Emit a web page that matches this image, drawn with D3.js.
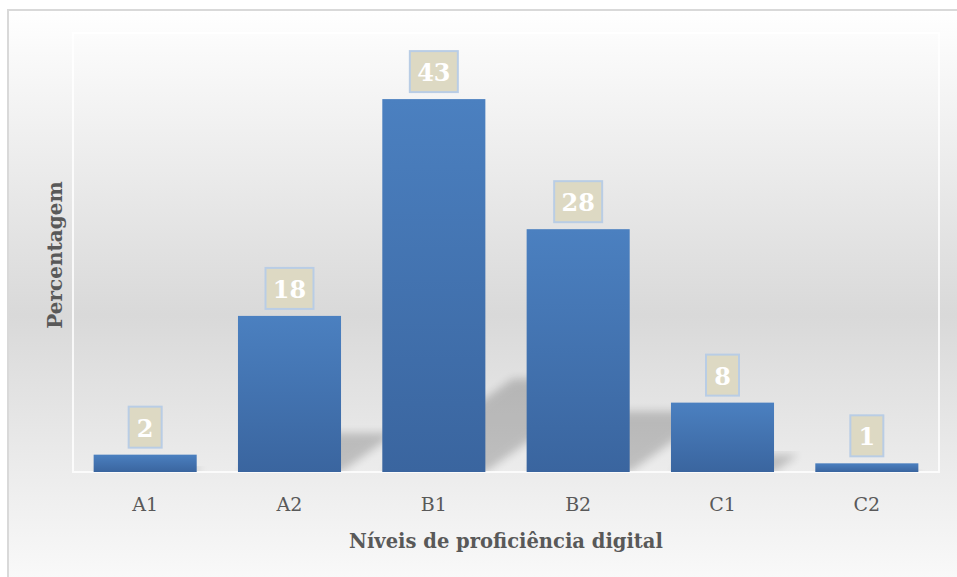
<!DOCTYPE html>
<html>
<head>
<meta charset="utf-8">
<script src="https://cdn.jsdelivr.net/npm/d3@7"></script>
<style>
	body { margin: 0; background: #ffffff; }
	svg { display: block; }
</style>
</head>
<body>
<div id="vis-div"></div>
<script>
'use strict'

// values
const categories = ["A1", "A2", "B1", "B2", "C1", "C2"]
const percentages = [2, 18, 43, 28, 8, 1]
const yDomain = [0, 50]
const xTitle = "Níveis de proficiência digital"
const yTitle = "Percentagem"

function renderChart(width, height){
	let plot = {left: 73, right: 939, top: 38.4, bottom: 472}
	let font = "'DejaVu Serif', 'Liberation Serif', serif"

	let svg = d3.select("#vis-div")
		.append("svg")
		.attr("width", width)
		.attr("height", height)

	let defs = svg.append("defs")

	let bg = defs.append("linearGradient").attr("id", "bg-grad")
		.attr("x1", 0).attr("y1", 0).attr("x2", 0).attr("y2", 1)
	bg.append("stop").attr("offset", "0%").attr("stop-color", "#ffffff")
	bg.append("stop").attr("offset", "52%").attr("stop-color", "#d9d9d9")
	bg.append("stop").attr("offset", "100%").attr("stop-color", "#fbfbfb")

	let barGrad = defs.append("linearGradient").attr("id", "bar-grad")
		.attr("x1", 0).attr("y1", 0).attr("x2", 0).attr("y2", 1)
	barGrad.append("stop").attr("offset", "0%").attr("stop-color", "#4b80c0")
	barGrad.append("stop").attr("offset", "100%").attr("stop-color", "#3a659f")

	defs.append("filter").attr("id", "blur")
		.attr("x", "-20%").attr("y", "-20%").attr("width", "140%").attr("height", "140%")
		.append("feGaussianBlur").attr("stdDeviation", 4)

	defs.append("clipPath").attr("id", "plot-clip")
		.append("rect")
		.attr("x", plot.left).attr("y", 0)
		.attr("width", plot.right - plot.left).attr("height", plot.bottom)

	// chart area
	svg.append("rect")
		.attr("x", 8).attr("y", 10)
		.attr("width", width + 10).attr("height", height + 10)
		.attr("fill", "url(#bg-grad)")
		.attr("stroke", "#d9d9d9")
		.attr("stroke-width", 2)

	let xScale = d3.scaleBand()
		.domain(categories)
		.range([plot.left, plot.right])
		.paddingInner(0.286)
		.paddingOuter(0.143)

	let yScale = d3.scaleLinear().domain(yDomain).range([plot.bottom, plot.top])

	let data = categories.map(function(c, i){
		return {cat: c, value: percentages[i]}
	})

	// perspective shadows behind the bars
	svg.append("g")
		.attr("clip-path", "url(#plot-clip)")
		.selectAll(".shadow")
		.data(data).enter().append("path")
		.attr("class", "shadow")
		.attr("d", function(d){
			let x0 = xScale(d.cat)
			let x1 = x0 + xScale.bandwidth()
			let h = plot.bottom - yScale(d.value)
			let dx = h * 0.35, dy = h * 0.25
			return "M" + x0 + "," + plot.bottom + "L" + x1 + "," + plot.bottom +
				"L" + (x1 + dx) + "," + (plot.bottom - dy) + "L" + (x0 + dx) + "," + (plot.bottom - dy) + "Z"
		})
		.attr("fill", "#000")
		.attr("opacity", 0.19)
		.attr("filter", "url(#blur)")

	// plot area border
	svg.append("rect")
		.attr("x", plot.left).attr("y", 33)
		.attr("width", plot.right - plot.left).attr("height", plot.bottom - 33)
		.attr("fill", "none")
		.attr("stroke", "#ffffff")
		.attr("stroke-opacity", 0.8)
		.attr("stroke-width", 2)

	svg.append("g").selectAll(".bar")
		.data(data).enter().append("rect")
		.attr("class", "bar")
		.attr("x", function(d){ return xScale(d.cat) })
		.attr("y", function(d){ return yScale(d.value) })
		.attr("width", xScale.bandwidth())
		.attr("height", function(d){ return plot.bottom - yScale(d.value) })
		.attr("fill", "url(#bar-grad)")

	// data labels
	let labels = svg.append("g").selectAll(".lbl")
		.data(data).enter().append("g")
		.attr("class", "lbl")
		.attr("transform", function(d){
			return "translate(" + (xScale(d.cat) + xScale.bandwidth() / 2) + "," + (yScale(d.value) - 7) + ")"
		})
	labels.append("rect")
		.attr("x", function(d){ return String(d.value).length > 1 ? -24 : -16.5 })
		.attr("y", -41)
		.attr("width", function(d){ return String(d.value).length > 1 ? 48 : 33 })
		.attr("height", 41)
		.attr("fill", "#ddd9c3")
		.attr("stroke", "#b9cde5")
		.attr("stroke-width", 2)
	labels.append("text")
		.attr("y", -11)
		.attr("text-anchor", "middle")
		.attr("font-family", font)
		.attr("font-weight", "bold")
		.attr("font-size", 24)
		.attr("fill", "#ffffff")
		.text(function(d){ return d.value })

	// x axis labels
	let x = svg.append("g")
		.attr("transform", "translate(0," + plot.bottom + ")")
		.call(d3.axisBottom(xScale).tickSize(0).tickPadding(0))
	x.select(".domain").remove()
	x.selectAll("text")
		.attr("y", 39)
		.attr("dy", null)
		.attr("font-family", font)
		.attr("font-size", 19)
		.attr("fill", "#595959")

	svg.append("text")
		.attr("x", (plot.left + plot.right) / 2)
		.attr("y", 548)
		.attr("text-anchor", "middle")
		.attr("font-family", font)
		.attr("font-weight", "bold")
		.attr("font-size", 19.5)
		.attr("fill", "#595959")
		.text(xTitle)

	svg.append("text")
		.attr("transform", "translate(62,255) rotate(-90)")
		.attr("text-anchor", "middle")
		.attr("font-family", font)
		.attr("font-weight", "bold")
		.attr("font-size", 20)
		.attr("fill", "#595959")
		.text(yTitle)
}

renderChart(957, 577)
</script>
</body>
</html>
